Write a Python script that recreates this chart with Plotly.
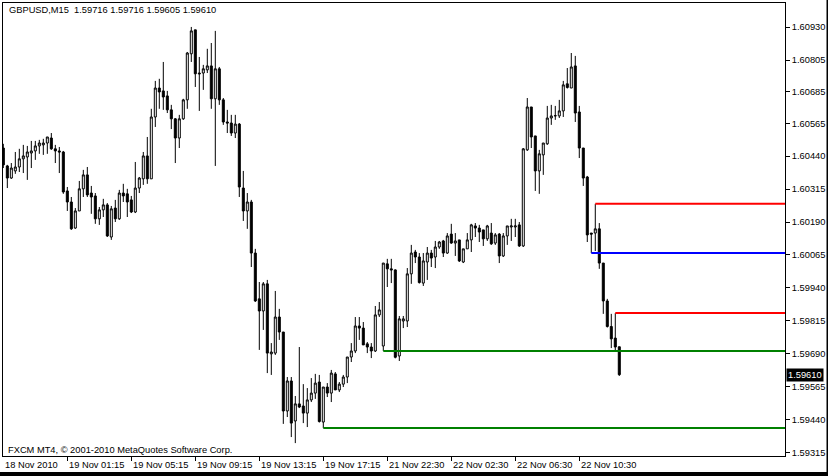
import plotly.graph_objects as go

# ---------------- data ----------------
bar_index = list(range(155))

opens = [
    1.60471, 1.60403, 1.60357, 1.60384, 1.60399, 1.60430, 1.60437, 1.60452, 1.60460, 1.60479,
    1.60483, 1.60490, 1.60509, 1.60468, 1.60460, 1.60456, 1.60308, 1.60266, 1.60167, 1.60232,
    1.60316, 1.60369, 1.60300, 1.60289, 1.60202, 1.60236, 1.60255, 1.60133, 1.60243, 1.60202,
    1.60300, 1.60297, 1.60274, 1.60228, 1.60319, 1.60354, 1.60441, 1.60354, 1.60589, 1.60699,
    1.60688, 1.60669, 1.60616, 1.60582, 1.60509, 1.60582, 1.60654, 1.60829, 1.60920, 1.60756,
    1.60756, 1.60768, 1.60783, 1.60658, 1.60772, 1.60654, 1.60570, 1.60566, 1.60528, 1.60562,
    1.60319, 1.60232, 1.60266, 1.60072, 1.59898, 1.59852, 1.59955, 1.59689, 1.59692, 1.59829,
    1.59772, 1.59472, 1.59586, 1.59434, 1.59499, 1.59491, 1.59464, 1.59514, 1.59540, 1.59582,
    1.59430, 1.59563, 1.59540, 1.59613, 1.59552, 1.59574, 1.59601, 1.59677, 1.59700, 1.59795,
    1.59787, 1.59727, 1.59715, 1.59700, 1.59837, 1.59719, 1.60031, 1.60012, 1.60008, 1.59681,
    1.59814, 1.59814, 1.59993, 1.60076, 1.60057, 1.59958, 1.60038, 1.60072, 1.60057, 1.60095,
    1.60118, 1.60072, 1.60144, 1.60110, 1.60122, 1.60038, 1.60088, 1.60122, 1.60175, 1.60167,
    1.60160, 1.60126, 1.60148, 1.60110, 1.60144, 1.60061, 1.60137, 1.60171, 1.60171, 1.60179,
    1.60099, 1.60464, 1.60627, 1.60517, 1.60384, 1.60445, 1.60487, 1.60585, 1.60593, 1.60593,
    1.60612, 1.60715, 1.60699, 1.60783, 1.60608, 1.60471, 1.60361, 1.60148, 1.60148, 1.60164,
    1.60034, 1.59890, 1.59793, 1.59749, 1.59716,
]

highs = [
    1.60487, 1.60407, 1.60414, 1.60456, 1.60468, 1.60483, 1.60479, 1.60498, 1.60498, 1.60502,
    1.60506, 1.60513, 1.60528, 1.60483, 1.60475, 1.60460, 1.60323, 1.60285, 1.60243, 1.60346,
    1.60388, 1.60399, 1.60327, 1.60300, 1.60247, 1.60278, 1.60262, 1.60251, 1.60274, 1.60312,
    1.60335, 1.60316, 1.60289, 1.60418, 1.60361, 1.60456, 1.60513, 1.60620, 1.60726, 1.60734,
    1.60798, 1.60688, 1.60635, 1.60585, 1.60597, 1.60658, 1.60836, 1.60931, 1.60920, 1.60817,
    1.60787, 1.60848, 1.60870, 1.60916, 1.60779, 1.60661, 1.60616, 1.60597, 1.60597, 1.60566,
    1.60384, 1.60300, 1.60274, 1.60088, 1.59962, 1.59962, 1.59970, 1.59730, 1.59928, 1.59860,
    1.59772, 1.59601, 1.59601, 1.59529, 1.59715, 1.59574, 1.59559, 1.59597, 1.59613, 1.59609,
    1.59563, 1.59578, 1.59628, 1.59620, 1.59582, 1.59609, 1.59677, 1.59730, 1.59829, 1.59829,
    1.59810, 1.59734, 1.59730, 1.59871, 1.59886, 1.60034, 1.60050, 1.60050, 1.60010, 1.59833,
    1.59833, 1.60015, 1.60103, 1.60084, 1.60072, 1.60072, 1.60095, 1.60084, 1.60118, 1.60118,
    1.60122, 1.60148, 1.60183, 1.60148, 1.60122, 1.60088, 1.60148, 1.60183, 1.60186, 1.60179,
    1.60160, 1.60179, 1.60186, 1.60148, 1.60148, 1.60148, 1.60175, 1.60202, 1.60202, 1.60190,
    1.60471, 1.60661, 1.60627, 1.60517, 1.60464, 1.60490, 1.60631, 1.60635, 1.60631, 1.60654,
    1.60726, 1.60775, 1.60832, 1.60821, 1.60631, 1.60471, 1.60365, 1.60148, 1.60259, 1.60186,
    1.60034, 1.59898, 1.59841, 1.59844, 1.59716,
]

lows = [
    1.60395, 1.60319, 1.60354, 1.60373, 1.60380, 1.60376, 1.60350, 1.60395, 1.60426, 1.60449,
    1.60445, 1.60449, 1.60464, 1.60414, 1.60376, 1.60297, 1.60232, 1.60160, 1.60164, 1.60232,
    1.60285, 1.60285, 1.60221, 1.60183, 1.60179, 1.60209, 1.60133, 1.60122, 1.60190, 1.60198,
    1.60266, 1.60209, 1.60224, 1.60224, 1.60300, 1.60331, 1.60335, 1.60354, 1.60551, 1.60620,
    1.60616, 1.60604, 1.60543, 1.60414, 1.60471, 1.60578, 1.60620, 1.60798, 1.60703, 1.60612,
    1.60692, 1.60756, 1.60620, 1.60403, 1.60635, 1.60559, 1.60528, 1.60517, 1.60509, 1.60285,
    1.60194, 1.60164, 1.60019, 1.59886, 1.59704, 1.59780, 1.59616, 1.59609, 1.59685, 1.59742,
    1.59423, 1.59449, 1.59373, 1.59350, 1.59483, 1.59426, 1.59411, 1.59506, 1.59518, 1.59428,
    1.59407, 1.59525, 1.59506, 1.59552, 1.59544, 1.59563, 1.59578, 1.59658, 1.59692, 1.59742,
    1.59723, 1.59692, 1.59673, 1.59696, 1.59829, 1.59700, 1.59943, 1.59958, 1.59672, 1.59662,
    1.59787, 1.59791, 1.59955, 1.60034, 1.59956, 1.59947, 1.59970, 1.60019, 1.60015, 1.60088,
    1.60057, 1.60069, 1.60107, 1.60061, 1.60038, 1.60034, 1.60088, 1.60076, 1.60133, 1.60114,
    1.60099, 1.60118, 1.60103, 1.60103, 1.60034, 1.60057, 1.60103, 1.60118, 1.60133, 1.60095,
    1.60095, 1.60460, 1.60471, 1.60308, 1.60297, 1.60369, 1.60483, 1.60559, 1.60578, 1.60585,
    1.60589, 1.60697, 1.60699, 1.60570, 1.60433, 1.60327, 1.60114, 1.60072, 1.60080, 1.60012,
    1.59841, 1.59789, 1.59711, 1.59700, 1.59605,
]

closes = [
    1.60407, 1.60357, 1.60395, 1.60399, 1.60430, 1.60441, 1.60456, 1.60460, 1.60479, 1.60490,
    1.60490, 1.60513, 1.60468, 1.60460, 1.60456, 1.60304, 1.60266, 1.60164, 1.60232, 1.60316,
    1.60369, 1.60293, 1.60285, 1.60202, 1.60236, 1.60255, 1.60137, 1.60240, 1.60202, 1.60300,
    1.60289, 1.60266, 1.60228, 1.60319, 1.60357, 1.60441, 1.60354, 1.60589, 1.60699, 1.60684,
    1.60665, 1.60616, 1.60582, 1.60509, 1.60582, 1.60654, 1.60832, 1.60916, 1.60753, 1.60753,
    1.60772, 1.60783, 1.60658, 1.60772, 1.60654, 1.60570, 1.60566, 1.60528, 1.60562, 1.60323,
    1.60232, 1.60266, 1.60072, 1.59890, 1.59852, 1.59955, 1.59692, 1.59696, 1.59829, 1.59772,
    1.59472, 1.59586, 1.59426, 1.59499, 1.59487, 1.59464, 1.59514, 1.59540, 1.59578, 1.59432,
    1.59563, 1.59540, 1.59616, 1.59552, 1.59574, 1.59601, 1.59677, 1.59700, 1.59795, 1.59787,
    1.59723, 1.59715, 1.59700, 1.59837, 1.59856, 1.60034, 1.60012, 1.60008, 1.59676, 1.59822,
    1.59822, 1.59993, 1.60072, 1.60057, 1.59960, 1.60042, 1.60072, 1.60053, 1.60095, 1.60114,
    1.60072, 1.60137, 1.60110, 1.60118, 1.60042, 1.60088, 1.60122, 1.60179, 1.60167, 1.60152,
    1.60126, 1.60175, 1.60107, 1.60141, 1.60061, 1.60137, 1.60175, 1.60175, 1.60175, 1.60099,
    1.60468, 1.60627, 1.60513, 1.60384, 1.60449, 1.60490, 1.60585, 1.60593, 1.60594, 1.60612,
    1.60711, 1.60701, 1.60779, 1.60604, 1.60471, 1.60357, 1.60141, 1.60144, 1.60164, 1.60034,
    1.59890, 1.59793, 1.59746, 1.59715, 1.59610,
]

# horizontal levels: price and the bar where each level starts
level_prices = [1.60259, 1.60072, 1.59844, 1.59700, 1.59407]
level_start_bars = [148, 147, 153, 95, 80]
level_kinds = ["resistance", "pivot", "resistance", "support", "support"]

# axis ticks
price_ticks = [1.60930, 1.60805, 1.60685, 1.60565, 1.60440, 1.60315, 1.60190,
               1.60065, 1.59940, 1.59815, 1.59690, 1.59565, 1.59440, 1.59315]
time_tick_bars = [0, 16, 32, 48, 64, 80, 96, 112, 128, 144]
time_tick_labels = ["18 Nov 2010", "19 Nov 01:15", "19 Nov 05:15", "19 Nov 09:15",
                    "19 Nov 13:15", "19 Nov 17:15", "21 Nov 22:30", "22 Nov 02:30",
                    "22 Nov 06:30", "22 Nov 10:30"]

symbol_title = "GBPUSD,M15"
last_quote = [opens[-1], highs[-1], lows[-1], closes[-1]]

# ---------------- styles ----------------
FONT = "Liberation Sans"
FS = 9.3
kind_colors = {"resistance": "#ff0000", "pivot": "#0000ff", "support": "#008000"}

W, H = 828, 476
ML, MR, MT, MB = 3, 43, 3, 20
x_range = [-0.08, 195.43]
y_range = [1.59301, 1.61022]

fig = go.Figure()

fig.add_trace(go.Candlestick(
    x=bar_index, open=opens, high=highs, low=lows, close=closes,
    increasing=dict(line=dict(color="black", width=1), fillcolor="white"),
    decreasing=dict(line=dict(color="black", width=1), fillcolor="black"),
    whiskerwidth=0, hoverinfo="skip", showlegend=False,
))

for price, start, kind in zip(level_prices, level_start_bars, level_kinds):
    fig.add_trace(go.Scatter(
        x=[start, x_range[1]], y=[price, price], mode="lines",
        line=dict(color=kind_colors[kind], width=2),
        hoverinfo="skip", showlegend=False, cliponaxis=True,
    ))

annotations = []
# title
annotations.append(dict(
    xref="paper", yref="paper", x=0.005, y=1, yshift=-7, xanchor="left", yanchor="middle",
    text=symbol_title + "&nbsp;&nbsp;" + " ".join(f"{v:.5f}" for v in last_quote),
    showarrow=False, font=dict(family=FONT, size=FS, color="black"),
))
# copyright
annotations.append(dict(
    xref="paper", yref="paper", x=0.004, y=0, yshift=6, xanchor="left", yanchor="middle",
    text="FXCM MT4, © 2001-2010 MetaQuotes Software Corp.",
    showarrow=False, font=dict(family=FONT, size=FS, color="black"),
))
# time labels (left aligned at the tick)
for b, lab in zip(time_tick_bars, time_tick_labels):
    annotations.append(dict(
        xref="x", yref="paper", x=b, y=0, yshift=-8.5, xshift=0, xanchor="left", yanchor="middle",
        text=lab, showarrow=False, font=dict(family=FONT, size=FS, color="black"),
    ))
# current price box
annotations.append(dict(
    xref="paper", yref="y", x=1, y=closes[-1], xshift=1, xanchor="left", yanchor="middle",
    text=f"{closes[-1]:.5f}", showarrow=False, bgcolor="black", borderpad=1,
    font=dict(family=FONT, size=FS, color="white"),
))

pw = W - ML - MR
ph = H - MT - MB
shapes = [
    # dark window edges on right and bottom
    dict(type="rect", xref="paper", yref="paper",
         x0=(826.5 - ML) / pw, x1=(W + 2 - ML) / pw, y0=-MB / ph - 0.01, y1=1 + MT / ph + 0.01,
         fillcolor="black", line=dict(width=0), layer="above"),
    dict(type="rect", xref="paper", yref="paper",
         x0=-ML / pw - 0.01, x1=(W + 2 - ML) / pw, y0=-(472 - (H - MB)) / ph, y1=-(H + 2 - (H - MB)) / ph,
         fillcolor="black", line=dict(width=0), layer="above"),
]

fig.update_layout(
    width=W, height=H,
    margin=dict(l=ML, r=MR, t=MT, b=MB, pad=0),
    paper_bgcolor="white", plot_bgcolor="white",
    boxgap=0.5, boxgroupgap=0,
    showlegend=False, hovermode=False,
    annotations=annotations, shapes=shapes,
    xaxis=dict(
        range=x_range, showgrid=False, zeroline=False,
        showline=True, linecolor="black", linewidth=1, mirror=True,
        ticks="outside", ticklen=4, tickcolor="black", tickwidth=1,
        tickvals=time_tick_bars[1:], showticklabels=False,
        rangeslider=dict(visible=False), fixedrange=True,
    ),
    yaxis=dict(
        range=y_range, side="right", showgrid=False, zeroline=False,
        showline=True, linecolor="black", linewidth=1, mirror=True,
        ticks="outside", ticklen=4, tickcolor="black", tickwidth=1,
        tickvals=price_ticks, ticktext=[f"{v:.5f}" for v in price_ticks],
        tickfont=dict(family=FONT, size=FS, color="black"), fixedrange=True,
    ),
)

fig.write_html(
    "out.html", include_plotlyjs=True, full_html=True,
    config={"displayModeBar": False, "staticPlot": True},
    post_script="document.body.style.margin='0';document.body.style.overflow='hidden';",
)
